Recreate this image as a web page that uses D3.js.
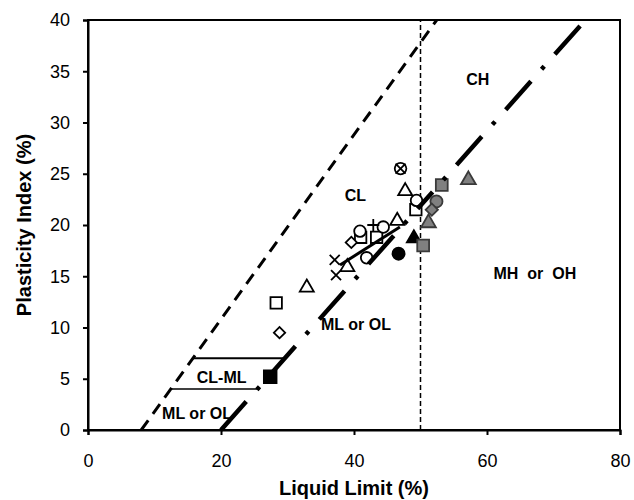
<!DOCTYPE html>
<html><head><meta charset="utf-8">
<script src="https://cdn.jsdelivr.net/npm/d3@7"></script>
<style>body{margin:0;background:#fff}svg{display:block}text{font-family:"Liberation Sans",Arial,sans-serif}</style>
</head><body><svg id="c" width="634" height="500"></svg>
<script>
// ---- data ----
const xTicks = [0, 20, 40, 60, 80];
const yTicks = [0, 5, 10, 15, 20, 25, 30, 35, 40];
// reference lines [LL, PI]
const uLine = [[8, 0], [52.44, 40]];
const aLineLower = [[20, 0], [50, 21.9]];
const aLineUpper = [[74, 39.42], [50, 21.9]];
const trendLine = [[37.9, 16.1], [46.9, 19.8]];
const llFifty = [[50, 0], [50, 40]];
const clmlTop = [[15.8, 7], [29.6, 7]];
const clmlBottom = [[12.4, 4], [25.5, 4]];
// samples [LL, PI]
const squareOpen = [[28.3, 12.4], [41.0, 18.8], [43.4, 18.8], [49.3, 21.5]];
const diamondOpen = [[28.8, 9.5], [39.6, 18.3]];
const triangleOpen = [[32.9, 13.9], [39.0, 15.9], [46.5, 20.4], [47.7, 23.3]];
const circleOpen = [[41.9, 16.8], [40.9, 19.4], [44.4, 19.8], [49.4, 22.4], [47.0, 25.5]];
const crossMark = [[37.1, 16.6], [37.3, 15.1], [47.0, 25.5]];
const plusMark = [[42.9, 20.0]];
const squareBlack = [[27.4, 5.2]];
const circleBlack = [[46.7, 17.2]];
const triangleBlack = [[49.0, 18.7]];
const squareGray = [[53.2, 23.9], [50.4, 18.0]];
const circleGray = [[52.4, 22.3]];
const diamondGray = [[51.7, 21.5]];
const triangleGray = [[51.2, 20.2], [57.2, 24.4]];
const zoneLabels = [["CH", 58.6, 34.2], ["CL", 40.2, 22.9], ["MH  or  OH", 67.2, 15.3], ["ML or OL", 40.3, 10.3], ["CL-ML", 20.1, 5.1], ["ML or OL", 16.4, 1.6]];

// ---- chart ----
const FONT = '"Liberation Sans",Arial,sans-serif';
const svg = d3.select("#c");
const x = d3.scaleLinear().domain([0, 80]).range([88, 620]);
const y = d3.scaleLinear().domain([0, 40]).range([430, 20]);
const line = d3.line().x(d => x(d[0])).y(d => y(d[1]));

// frame
svg.append("rect").attr("x", x(0)).attr("y", y(40)).attr("width", x(80) - x(0)).attr("height", y(0) - y(40))
  .attr("fill", "none").attr("stroke", "#000").attr("stroke-width", 2);

// axes
const xa = svg.append("g").attr("transform", `translate(0,${y(0)})`)
  .call(d3.axisBottom(x).tickValues(xTicks).tickSize(5).tickPadding(19).tickFormat(d3.format("d")));
const ya = svg.append("g").attr("transform", `translate(${x(0)},0)`)
  .call(d3.axisLeft(y).tickValues(yTicks).tickSize(5).tickPadding(13).tickFormat(d3.format("d")));
[xa, ya].forEach(g => {
  g.select(".domain").attr("stroke-width", 2);
  g.selectAll(".tick line").attr("stroke-width", 2);
  g.selectAll("text").attr("font-size", 18).attr("fill", "#000").attr("font-family", FONT);
});

// reference lines
svg.append("path").datum(llFifty).attr("d", line).attr("fill", "none").attr("stroke", "#000")
  .attr("stroke-width", 1.5).attr("stroke-dasharray", "5,3");
svg.append("path").datum(uLine).attr("d", line).attr("fill", "none").attr("stroke", "#000")
  .attr("stroke-width", 3).attr("stroke-dasharray", "12,8");
svg.append("path").datum(clmlTop).attr("d", line).attr("fill", "none").attr("stroke", "#000").attr("stroke-width", 2);
svg.append("path").datum(clmlBottom).attr("d", line).attr("fill", "none").attr("stroke", "#000").attr("stroke-width", 1.5);

// markers
const sym = (type, size) => d3.symbol().type(type).size(size)();
const crossPath = "M-5,-5L5,5M-5,5L5,-5";
const plusPath = "M-6,0L6,0M0,-6L0,6";
function draw(data, path, fill, stroke, rot) {
  svg.append("g").selectAll("path").data(data).join("path")
    .attr("d", path)
    .attr("transform", d => `translate(${x(d[0])},${y(d[1])})` + (rot ? ` rotate(${rot})` : ""))
    .attr("fill", fill).attr("stroke", stroke).attr("stroke-width", 1.8);
}
const GRAY = "#808080", GSTROKE = "#3a3a3a";
draw(squareOpen, sym(d3.symbolSquare, 130), "#fff", "#000");
draw(diamondOpen, sym(d3.symbolSquare, 64), "#fff", "#000", 45);
draw(triangleOpen, sym(d3.symbolTriangle, 85), "#fff", "#000");
draw(circleOpen, sym(d3.symbolCircle, 105), "#fff", "#000");
draw(crossMark, crossPath, "none", "#000");
draw(plusMark, plusPath, "none", "#000");
draw(squareBlack, sym(d3.symbolSquare, 160), "#000", "#000");
draw(circleBlack, sym(d3.symbolCircle, 115), "#000", "#000");
draw(triangleBlack, sym(d3.symbolTriangle, 85), "#000", "#000");
draw(squareGray, sym(d3.symbolSquare, 140), GRAY, GSTROKE);
draw(circleGray, sym(d3.symbolCircle, 115), GRAY, GSTROKE);
draw(diamondGray, sym(d3.symbolSquare, 75), GRAY, GSTROKE, 45);
draw(triangleGray, sym(d3.symbolTriangle, 95), GRAY, GSTROKE);

// A-line (long dash dot) and solid trend segment
[aLineLower, aLineUpper].forEach(seg => {
  svg.append("path").datum(seg).attr("d", line).attr("fill", "none").attr("stroke", "#000")
    .attr("stroke-width", 4.5).attr("stroke-dasharray", "38,16,4,16");
});
svg.append("path").datum(trendLine).attr("d", line).attr("fill", "none").attr("stroke", "#000").attr("stroke-width", 3);

// zone labels
svg.append("g").selectAll("text").data(zoneLabels).join("text")
  .attr("x", d => x(d[1])).attr("y", d => y(d[2])).attr("text-anchor", "middle").attr("dy", "0.35em")
  .attr("font-size", 16).attr("font-weight", "bold").attr("fill", "#000")
  .style("white-space", "pre").text(d => d[0]);

// axis titles
svg.append("text").attr("x", (x(0) + x(80)) / 2).attr("y", 495).attr("text-anchor", "middle")
  .attr("font-size", 20).attr("font-weight", "bold").text("Liquid Limit (%)");
svg.append("text").attr("transform", `translate(31,${(y(0) + y(40)) / 2}) rotate(-90)`).attr("text-anchor", "middle")
  .attr("font-size", 20).attr("font-weight", "bold").text("Plasticity Index (%)");
</script></body></html>
